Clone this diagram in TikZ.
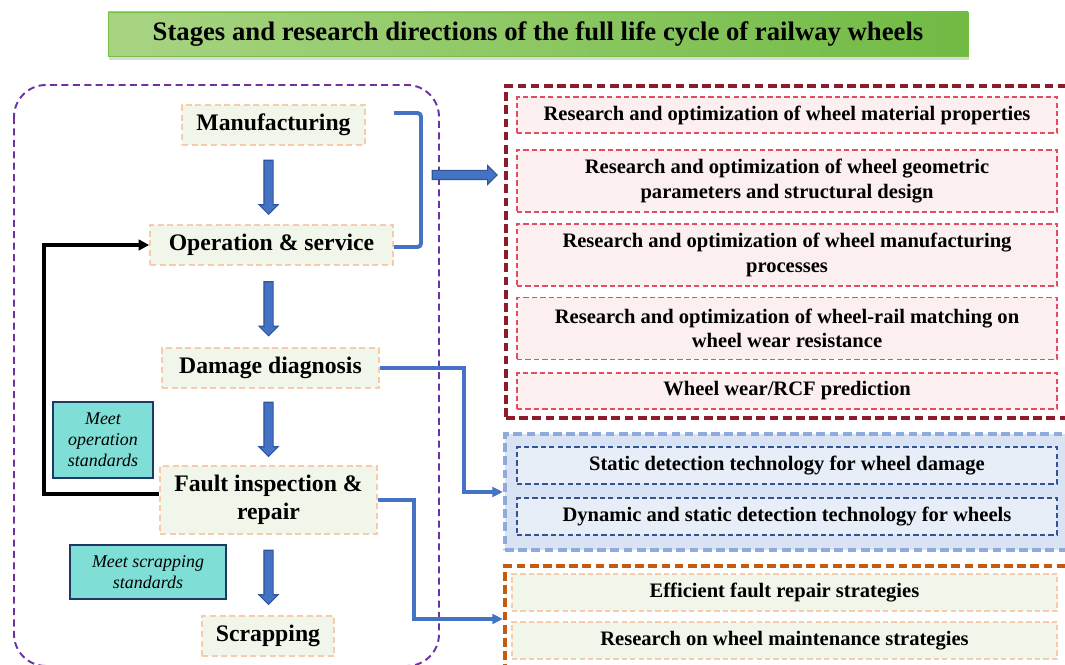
\documentclass[tikz,border=0pt]{standalone}
\usepackage{fontspec}
\setmainfont{Liberation Serif}
\usetikzlibrary{positioning, shapes.arrows, shadows, arrows.meta}
\definecolor{peach}{HTML}{F8CBAD}
\definecolor{paleg}{HTML}{F1F6EA}
\definecolor{lifeline}{HTML}{7030A0}
\definecolor{wine}{HTML}{8E1B2B}
\definecolor{rose}{HTML}{E84A5F}
\definecolor{blush}{HTML}{FCEFF0}
\definecolor{mist}{HTML}{DAE3F3}
\definecolor{sky}{HTML}{8FAADC}
\definecolor{ice}{HTML}{E8EEF8}
\definecolor{denim}{HTML}{2F5597}
\definecolor{rust}{HTML}{C55A11}
\definecolor{steel}{HTML}{4472C4}
\definecolor{navy}{HTML}{1F3864}
\definecolor{turq}{HTML}{7FDFD6}
\definecolor{leafA}{HTML}{A8D482}
\definecolor{leafB}{HTML}{71BA44}
\definecolor{leafline}{HTML}{74C043}

\begin{document}
\begin{tikzpicture}[
  x=0.02cm, y=-0.02cm,
  every node/.style={
    inner sep=1mm,
    align=center
  },
  title/.style={
    draw=leafline, left color=leafA, right color=leafB,
    drop shadow={shadow xshift=0.5pt, shadow yshift=-2.5pt, opacity=0.3, fill=gray},
    minimum width=17.2cm, minimum height=0.88cm,
    font=\fontsize{15.2}{18}\selectfont\bfseries
  },
  lifecycle/.style={draw=lifeline, line width=1.1pt, dash pattern=on 4pt off 2.5pt, rounded corners=0.64cm},
  stage/.style={
    draw=peach, fill=paleg, line width=1pt, dash pattern=on 3.5pt off 2pt,
    minimum height=0.8cm,
    font=\fontsize{13.5}{15.9}\selectfont\bfseries
  },
  note/.style={draw=navy, fill=turq, line width=0.9pt, font=\fontsize{10.2}{12}\selectfont\itshape},
  downarrow/.style={
    single arrow, draw=denim, fill=steel, line width=0.6pt,
    inner sep=0.08cm, single arrow head extend=0.1cm,
    minimum height=1.08cm, shape border rotate=270
  },
  rightarrow/.style={downarrow, minimum height=1.3cm, shape border rotate=0},
  group/.style={line width=2.4pt, dash pattern=on 5pt off 2.5pt},
  resgrp/.style={group, draw=wine},
  detgrp/.style={group, draw=sky, fill=mist},
  maingrp/.style={group, draw=rust},
  res/.style={
    draw=rose, fill=blush, line width=1pt, dash pattern=on 3pt off 1.8pt,
    minimum width=10.8cm,
    font=\fontsize{11.7}{13.8}\selectfont\bfseries
  },
  det/.style={res, draw=denim, fill=ice, minimum height=0.74cm},
  mnt/.style={res, draw=peach, fill=paleg, minimum width=10.9cm, minimum height=0.74cm},
  link/.style={draw=steel, line width=2.2pt, -{Triangle[length=6pt, width=5.5pt]}},
  back/.style={draw=black, line width=2.3pt, -{Triangle[length=6pt, width=6pt]}},
  brace/.style={draw=steel, line width=2.2pt, rounded corners=2pt}
]
\useasboundingbox (0,0) rectangle (1065,665);

\node[title] (ttl) at (538,34) {Stages and research directions of the full life cycle of railway wheels};

\draw[lifecycle] (14,85) rectangle (439,666);

\node[stage, minimum width=3.66cm] (man) at (273.5,125) {Manufacturing};
\node[stage, minimum width=4.86cm] (ops) at (271.5,245) {Operation \& service};
\node[stage, minimum width=4.34cm] (dmg) at (270.5,368) {Damage diagnosis};
\node[stage, minimum width=4.34cm, minimum height=1.36cm] (flt) at (268.5,500) {Fault inspection \&\\repair};
\node[stage, minimum width=2.64cm] (scr) at (268,636) {Scrapping};

\node[note, minimum width=2cm, minimum height=1.52cm] (mop) at (103,440) {Meet\\operation\\standards};
\node[note, minimum width=3.12cm, minimum height=1.08cm] (msc) at (148,572) {Meet scrapping\\standards};

\foreach \a/\b in {man/ops, ops/dmg, dmg/flt, flt/scr}
  \path (\a.south -| flt) -- (\b.north -| flt) node[midway, downarrow] {};

\node[resgrp, minimum width=11.38cm, minimum height=6.64cm] (rgrp) at (790.5,252) {};
\node[detgrp, minimum width=11.4cm, minimum height=2.32cm] (dgrp) at (790,492) {};
\node[maingrp, minimum width=11.4cm, minimum height=2.12cm] (mgrp) at (790,619) {};

\node[res, minimum height=0.72cm] (r1) at (787,115) {Research and optimization of wheel material properties};
\node[res, minimum height=1.24cm] (r2) at (787,181) {Research and optimization of wheel geometric\\parameters and structural design};
\node[res, minimum height=1.24cm] (r3) at (787,255) {Research and optimization of wheel manufacturing\\processes};
\node[res, minimum height=1.24cm] (r4) at (787,328.5) {Research and optimization of wheel-rail matching on\\wheel wear resistance};
\node[res, minimum height=0.72cm] (r5) at (787,391) {Wheel wear/RCF prediction};

\node[det] (d1) at (787,465.5) {Static detection technology for wheel damage};
\node[det] (d2) at (787,516.5) {Dynamic and static detection technology for wheels};

\node[mnt] (m1) at (784.5,592.5) {Efficient fault repair strategies};
\node[mnt] (m2) at (784.5,640.5) {Research on wheel maintenance strategies};

\draw[link] (dmg.east) -- ++(84,0) |- (dgrp.west);
\draw[link] (flt.east) -- ++(36,0) |- (mgrp.west);
\draw[back] ([yshift=0.12cm]flt.west) -- ++(-115,0) |- (ops.west);

\coordinate (brtop) at (394,113);
\draw[brace] (brtop) -- ++(27,0) |- ([yshift=-0.04cm]ops.east);
\path (brtop) ++(27,62) coordinate (brmid);
\path (brmid) -- (rgrp.west |- brmid) node[midway, rightarrow] {};

\end{tikzpicture}
\end{document}
